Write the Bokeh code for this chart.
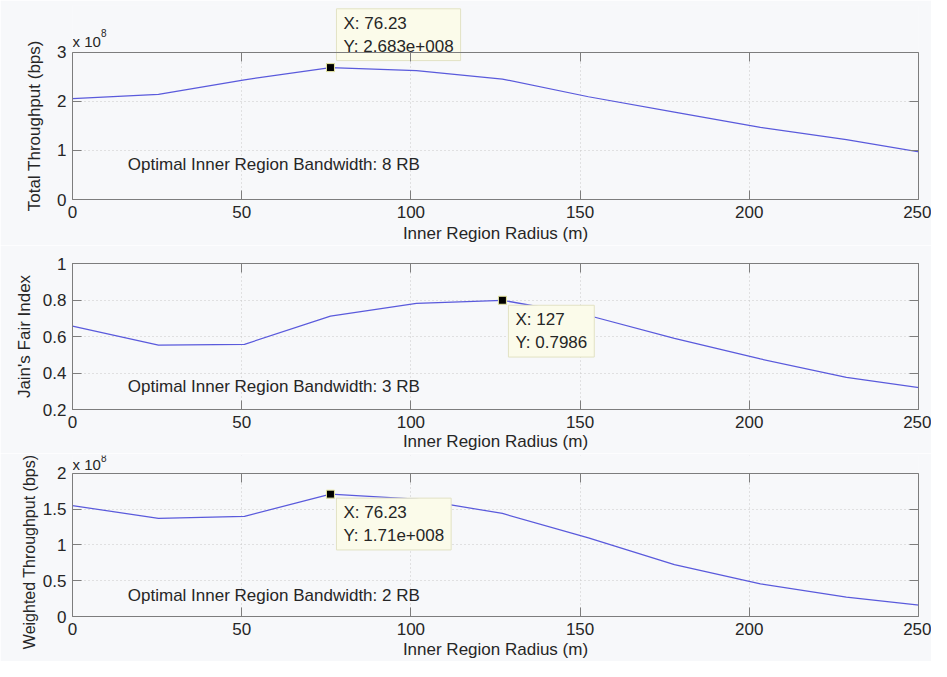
from bokeh.plotting import figure
from bokeh.layouts import column
from bokeh.models import Label, LinearAxis, FixedTicker, Range1d, CustomJSTickFormatter, BoxAnnotation
from bokeh.embed import file_html
from bokeh.resources import INLINE

# ---------------- data ----------------
radius_m = [0.0, 25.41, 50.82, 76.23, 101.64, 127.05, 152.46, 177.87, 203.28, 228.69, 254.1]
total_throughput_1e8 = [2.05, 2.137, 2.434, 2.683, 2.62, 2.45, 2.09, 1.776, 1.467, 1.22, 0.92]
jain_index = [0.657, 0.553, 0.557, 0.712, 0.781, 0.7986, 0.715, 0.59, 0.477, 0.376, 0.31]
weighted_throughput_1e8 = [1.55, 1.37, 1.40, 1.71, 1.64, 1.44, 1.10, 0.724, 0.457, 0.271, 0.14]

x_ticks = [0, 50, 100, 150, 200, 250]
total_ticks = [0, 1, 2, 3]
jain_ticks = [0.2, 0.4, 0.6, 0.8, 1]
weighted_ticks = [0, 0.5, 1, 1.5, 2]

tip_index = [3, 5, 3]
tip_texts = ["X: 76.23\nY: 2.683e+008", "X: 127\nY: 0.7986", "X: 76.23\nY: 1.71e+008"]
bandwidth_texts = ["Optimal Inner Region Bandwidth: 8 RB",
                   "Optimal Inner Region Bandwidth: 3 RB",
                   "Optimal Inner Region Bandwidth: 2 RB"]
y_labels = ["Total Throughput (bps)", "Jain's Fair Index", "Weighted Throughput (bps)"]
x_label = "Inner Region Radius (m)"

# ---------------- style ----------------
FONT = "Liberation Sans"
BG = "#f7f8fa"
FRAME = "#7d7d7d"
TEXT = "#262626"
LINE = "#5a5adc"
GRID = "#c9c9c9"
TIP_BG = "#fbfbea"
TIP_BORDER = "#e2e2c4"
FS = "17px"

fmt_code = "return String(Math.round(tick*1000)/1000);"


def style_axis(ax, show_labels=True):
    ax.axis_line_color = FRAME
    ax.major_tick_line_color = FRAME
    ax.major_tick_in = 9
    ax.major_tick_out = 0
    ax.minor_tick_line_color = None
    ax.major_label_text_font = FONT
    ax.major_label_text_color = TEXT
    ax.axis_label_text_font = FONT
    ax.axis_label_text_color = TEXT
    ax.axis_label_text_font_style = "normal"
    ax.axis_label_text_font_size = FS
    if show_labels:
        ax.major_label_text_font_size = FS
    else:
        ax.major_label_text_font_size = "1px"
        ax.major_label_text_color = None
        ax.major_label_standoff = 0


def panel(height, b_top, b_bottom, y_rng, y_view_top, y_ticks, y_vals, k,
          ylabel_fs, ylabel_dx, ylabel_dy, xlabel_standoff, text_y, exp_offsets):
    # y_view_top > y_rng[1] leaves a free strip above the boxed axes area
    extended = y_view_top > y_rng[1]
    p = figure(width=931, height=height, title=None,
               x_range=Range1d(0, 250), y_range=Range1d(y_rng[0], y_view_top),
               output_backend="svg", toolbar_location=None,
               min_border_left=72, min_border_right=13,
               min_border_top=b_top, min_border_bottom=b_bottom,
               background_fill_color=BG, border_fill_color=BG,
               outline_line_color=None if extended else FRAME, outline_line_width=1)

    xa = p.xaxis[0]
    ya = p.yaxis[0]
    xa.ticker = FixedTicker(ticks=x_ticks)
    ya.ticker = FixedTicker(ticks=y_ticks)
    xa.formatter = CustomJSTickFormatter(code=fmt_code)
    ya.formatter = CustomJSTickFormatter(code=fmt_code)
    style_axis(xa)
    style_axis(ya)
    xa.major_label_standoff = 6
    ya.major_label_standoff = 6
    xa.axis_label = x_label
    xa.axis_label_standoff = xlabel_standoff

    top = LinearAxis(ticker=FixedTicker(ticks=x_ticks))
    style_axis(top, show_labels=False)
    right = LinearAxis(ticker=FixedTicker(ticks=y_ticks))
    style_axis(right, show_labels=False)
    if extended:
        ya.bounds = y_rng
        right.bounds = y_rng
        top.fixed_location = y_rng[1]
        # y label centred on the boxed area, kept in the left side panel
        p.add_layout(Label(x=0, y=(y_rng[0] + y_rng[1]) / 2, text=y_labels[k],
                           x_offset=-ylabel_dx, y_offset=ylabel_dy,
                           angle=90, angle_units="deg", anchor="center",
                           text_font=FONT, text_font_size=ylabel_fs,
                           text_color=TEXT), "left")
    else:
        ya.axis_label = y_labels[k]
        ya.axis_label_text_font_size = ylabel_fs
        ya.axis_label_standoff = ylabel_dx
    p.add_layout(top, "above")
    p.add_layout(right, "right")

    for g in (p.xgrid[0], p.ygrid[0]):
        g.grid_line_color = GRID
        g.grid_line_dash = "1 3"
        g.grid_line_width = 1

    if extended:
        p.add_layout(BoxAnnotation(bottom=y_rng[1], fill_color=BG, fill_alpha=1.0,
                                   line_alpha=0, level="underlay"))

    p.line(radius_m, y_vals, line_color=LINE, line_width=1.25)

    i = tip_index[k]
    p.scatter([radius_m[i]], [y_vals[i]], marker="square", size=8,
              fill_color="black", line_color="#e6e6a0", line_width=1)

    p.add_layout(Label(x=16.35, y=text_y, text=bandwidth_texts[k],
                       anchor="center_left", text_font=FONT, text_font_size=FS,
                       text_color=TEXT))

    if k == 0:
        tip = Label(x=radius_m[i], y=y_vals[i], text=tip_texts[k],
                    anchor="bottom_left", x_offset=6, y_offset=7, level="underlay")
    elif k == 1:
        tip = Label(x=radius_m[i], y=y_vals[i], text=tip_texts[k],
                    anchor="top_left", x_offset=6, y_offset=-5)
    else:
        tip = Label(x=radius_m[i], y=y_vals[i], text=tip_texts[k],
                    anchor="top_left", x_offset=6, y_offset=-4)
    tip.text_font = FONT
    tip.text_font_size = FS
    tip.text_color = TEXT
    tip.background_fill_color = TIP_BG
    tip.border_line_color = TIP_BORDER
    tip.padding = (7, 5)
    p.add_layout(tip)

    if exp_offsets is not None:
        p.add_layout(Label(x=0, y=y_rng[1], text="x 10", anchor="bottom_left",
                           x_offset=0, y_offset=exp_offsets[0], text_font=FONT,
                           text_font_size="15px", text_color=TEXT))
        p.add_layout(Label(x=0, y=y_rng[1], text="8", anchor="center_left",
                           x_offset=28.5, y_offset=exp_offsets[1], text_font=FONT,
                           text_font_size="10px", text_color=TEXT))
    return p


p1 = panel(245, 5, 44, (0, 3), 3.946, total_ticks, total_throughput_1e8, 0,
           FS, 38, 0, 3, 0.72, (2, 19))
p2 = panel(208, 18, 44, (0.2, 1), 1, jain_ticks, jain_index, 1,
           FS, 6, 0, 1, 0.327, None)
p3 = panel(208, 2, 44, (0, 2), 2.25, weighted_ticks, weighted_throughput_1e8, 2,
           "16px", 43, -7, 2, 0.293, (0, 15))

layout = column(p1, p2, p3, spacing=0)
open("out.html", "w").write(file_html(layout, INLINE))
